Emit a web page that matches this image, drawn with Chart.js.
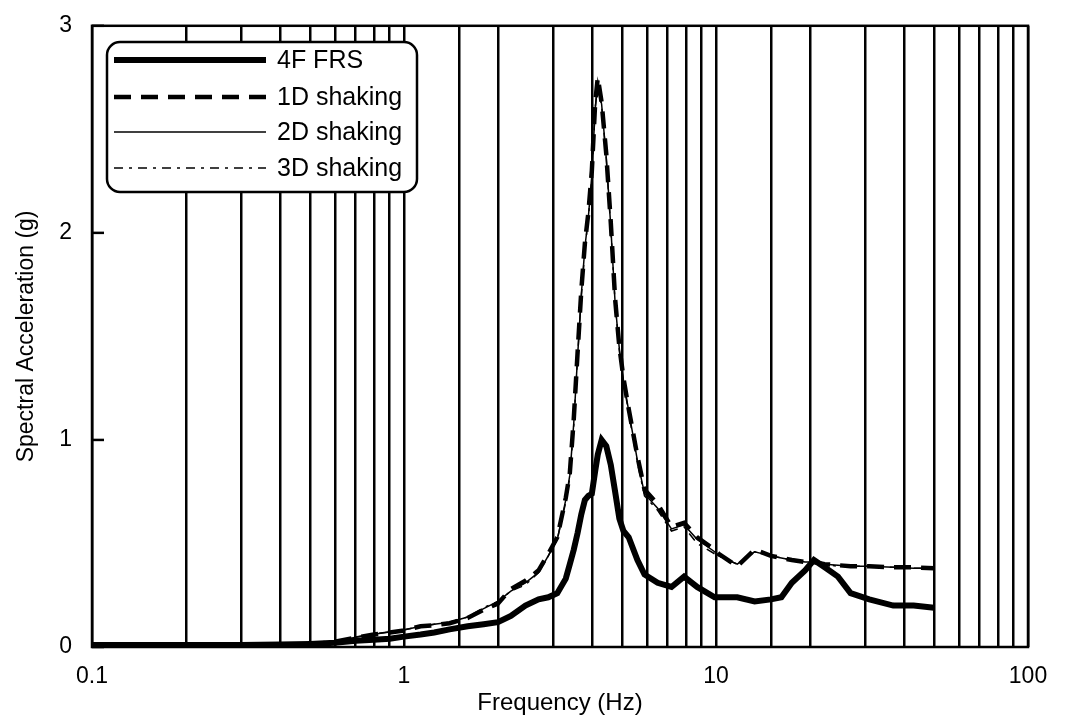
<!DOCTYPE html>
<html lang="en">
<head>
<meta charset="UTF-8">
<title>Floor response spectra</title>
<script src="https://cdn.jsdelivr.net/npm/chart.js"></script>
<style>
  html, body { margin: 0; padding: 0; background: #fff; }
</style>
</head>
<body>
<canvas id="frs_chart" width="1066" height="727"></canvas>
<script>
// frequencies (Hz)
var freqHz = [0.1, 0.15, 0.2, 0.3, 0.4, 0.5, 0.6, 0.7, 0.8, 0.9,
              1.0, 1.13, 1.25, 1.4, 1.6, 1.8, 2.0, 2.2, 2.45, 2.7,
              2.9, 3.1, 3.3, 3.4, 3.5, 3.6, 3.7, 3.8, 3.9, 4.0,
              4.1, 4.18, 4.3, 4.45, 4.6, 4.75, 4.9, 5.05, 5.25, 5.6,
              5.9, 6.5, 7.2, 7.9, 8.7, 9.9, 10.2, 11.7, 13.3, 15,
              16.2, 17.5, 19.3, 20.6, 22.3, 24.6, 27, 31, 37, 43, 50];

// spectral acceleration (g)
var frs4F   = [0.01, 0.01, 0.01, 0.01, 0.012, 0.015, 0.02, 0.03, 0.035, 0.04,
               0.05, 0.06, 0.07, 0.085, 0.10, 0.11, 0.12, 0.15, 0.20, 0.23,
               0.24, 0.26, 0.33, 0.40, 0.47, 0.55, 0.64, 0.71, 0.73, 0.74,
               0.85, 0.93, 1.00, 0.97, 0.88, 0.75, 0.62, 0.56, 0.53, 0.42,
               0.35, 0.31, 0.29, 0.34, 0.29, 0.24, 0.24, 0.24, 0.22, 0.23,
               0.24, 0.31, 0.37, 0.42, 0.385, 0.34, 0.26, 0.23, 0.20, 0.20, 0.19];

var shake1D = [0.005, 0.005, 0.005, 0.005, 0.008, 0.012, 0.025, 0.045, 0.06, 0.07,
               0.08, 0.10, 0.105, 0.115, 0.14, 0.18, 0.21, 0.28, 0.32, 0.37,
               0.45, 0.53, 0.72, 0.84, 1.10, 1.42, 1.72, 1.95, 2.10, 2.30,
               2.63, 2.75, 2.63, 2.38, 2.05, 1.68, 1.45, 1.30, 1.15, 0.92,
               0.76, 0.69, 0.58, 0.60, 0.53, 0.47, 0.45, 0.39, 0.47, 0.44,
               0.43, 0.42, 0.41, 0.41, 0.40, 0.395, 0.39, 0.39, 0.385, 0.385, 0.38];

var shake2D = [0.005, 0.005, 0.005, 0.006, 0.009, 0.013, 0.027, 0.047, 0.062, 0.072,
               0.082, 0.10, 0.11, 0.12, 0.145, 0.185, 0.22, 0.27, 0.31, 0.36,
               0.44, 0.52, 0.71, 0.83, 1.08, 1.40, 1.70, 1.93, 2.08, 2.28,
               2.60, 2.73, 2.62, 2.36, 2.03, 1.66, 1.44, 1.29, 1.14, 0.90,
               0.74, 0.67, 0.57, 0.59, 0.52, 0.46, 0.44, 0.40, 0.46, 0.44,
               0.43, 0.42, 0.41, 0.41, 0.40, 0.395, 0.39, 0.39, 0.385, 0.38, 0.38];

var shake3D = [0.005, 0.005, 0.006, 0.006, 0.009, 0.014, 0.028, 0.048, 0.063, 0.073,
               0.083, 0.10, 0.11, 0.12, 0.145, 0.19, 0.22, 0.27, 0.30, 0.36,
               0.44, 0.52, 0.70, 0.82, 1.07, 1.40, 1.69, 1.92, 2.07, 2.27,
               2.60, 2.72, 2.61, 2.36, 2.02, 1.66, 1.43, 1.28, 1.13, 0.89,
               0.73, 0.66, 0.56, 0.58, 0.50, 0.45, 0.44, 0.40, 0.46, 0.44,
               0.43, 0.42, 0.41, 0.41, 0.40, 0.39, 0.39, 0.39, 0.385, 0.38, 0.38];

var seriesNames = ['4F FRS', '1D shaking', '2D shaking', '3D shaking'];
var yTickValues = [0, 1, 2, 3];

var FONT = "'Liberation Sans', Arial, sans-serif";

function toPoints(vals) {
    var pts = [];
    for (var i = 0; i < freqHz.length; i++) {
        pts.push({ x: freqHz[i], y: vals[i] });
    }
    return pts;
}

// frame round the plot + short inward ticks on the y axis
var framePlugin = {
    id: 'frame',
    afterDatasetsDraw: function(chart) {
        var ctx = chart.ctx, a = chart.chartArea, ys = chart.scales.y;
        ctx.save();
        ctx.strokeStyle = '#000';
        ctx.lineWidth = 2.5;
        ctx.setLineDash([]);
        ctx.strokeRect(a.left, a.top, a.right - a.left, a.bottom - a.top);
        yTickValues.forEach(function(v) {
            var py = ys.getPixelForValue(v);
            ctx.beginPath();
            ctx.moveTo(a.left, py);
            ctx.lineTo(a.left + 12, py);
            ctx.stroke();
        });
        ctx.restore();
    }
};

// legend drawn inside the plot, rounded box like the original
var boxLegend = {
    id: 'boxLegend',
    afterDraw: function(chart) {
        var ctx = chart.ctx;
        var left = 107, top = 42, right = 417, bottom = 192, r = 13;
        ctx.save();
        ctx.beginPath();
        ctx.roundRect(left, top, right - left, bottom - top, r);
        ctx.fillStyle = '#fff';
        ctx.fill();
        ctx.lineWidth = 2.5;
        ctx.strokeStyle = '#000';
        ctx.stroke();

        var rowY = [60, 97, 132, 168];
        ctx.font = '25px ' + FONT;
        ctx.textBaseline = 'middle';
        ctx.fillStyle = '#000';
        chart.data.datasets.forEach(function(ds, i) {
            ctx.beginPath();
            ctx.setLineDash(ds.borderDash || []);
            ctx.lineWidth = ds.borderWidth;
            ctx.moveTo(114, rowY[i]);
            ctx.lineTo(266, rowY[i]);
            ctx.stroke();
            ctx.setLineDash([]);
            ctx.fillText(ds.label, 277, rowY[i] + 1);
        });
        ctx.restore();
    }
};

var config = {
    type: 'line',
    data: {
        datasets: [
            { label: seriesNames[0], data: toPoints(frs4F), borderColor: '#000', borderWidth: 6 },
            { label: seriesNames[1], data: toPoints(shake1D), borderColor: '#000', borderWidth: 4.5, borderDash: [17, 10] },
            { label: seriesNames[2], data: toPoints(shake2D), borderColor: '#000', borderWidth: 1.5 },
            { label: seriesNames[3], data: toPoints(shake3D), borderColor: '#000', borderWidth: 1.5, borderDash: [9, 6, 3, 6] }
        ]
    },
    options: {
        responsive: false,
        animation: false,
        parsing: false,
        elements: { point: { radius: 0 }, line: { tension: 0, fill: false } },
        layout: { padding: { top: 24, right: 38, bottom: 0, left: 0 } },
        plugins: {
            legend: { display: false },
            tooltip: { enabled: false }
        },
        scales: {
            x: {
                type: 'logarithmic',
                min: 0.1,
                max: 100,
                border: { display: false },
                grid: { color: '#000', lineWidth: 2.5, drawTicks: false },
                ticks: {
                    autoSkip: false,
                    maxRotation: 0,
                    padding: 16,
                    color: '#000',
                    font: { family: FONT, size: 23 },
                    callback: function(value) {
                        var e = Math.log10(value);
                        if (Math.abs(e - Math.round(e)) < 1e-6) {
                            return String(Math.pow(10, Math.round(e)));
                        }
                        return '';
                    }
                },
                title: {
                    display: true,
                    text: 'Frequency (Hz)',
                    color: '#000',
                    font: { family: FONT, size: 24 },
                    padding: { top: 0, bottom: 9 }
                },
                afterFit: function(s) { s.height = 80; }
            },
            y: {
                min: 0,
                max: 3,
                border: { display: false },
                grid: { display: false },
                ticks: {
                    stepSize: 1,
                    padding: 12,
                    color: '#000',
                    font: { family: FONT, size: 23 }
                },
                title: {
                    display: true,
                    text: 'Spectral Acceleration (g)',
                    color: '#000',
                    font: { family: FONT, size: 23 },
                    padding: { top: 13, bottom: 0 }
                },
                afterFit: function(s) { s.width = 92; }
            }
        }
    },
    plugins: [framePlugin, boxLegend]
};

var myChart = new Chart(document.getElementById('frs_chart'), config);
</script>
</body>
</html>
